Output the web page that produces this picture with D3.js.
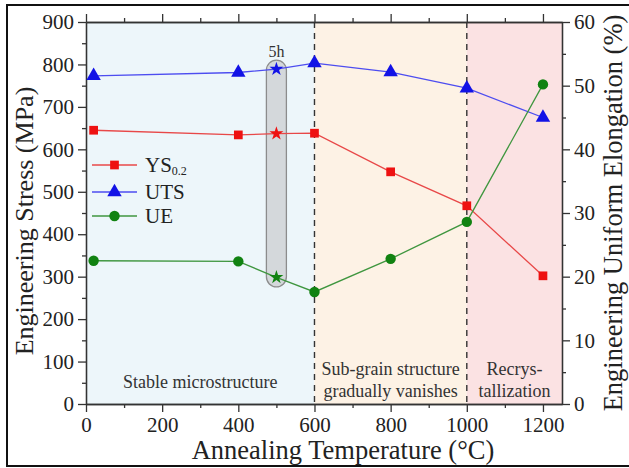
<!DOCTYPE html>
<html>
<head>
<meta charset="utf-8">
<script src="https://cdn.jsdelivr.net/npm/d3@7"></script>
<style>
  html, body { margin: 0; padding: 0; background: #fff; }
  svg { display: block; }
</style>
</head>
<body>
<svg id="chart" width="629" height="468"></svg>
<script>
// Annealing temperatures (°C); 500 °C is the 5 h hold
const temps = [20, 400, 500, 600, 800, 1000, 1200];
const longHoldTemp = 500;
// Yield strength YS0.2 (MPa)
const ysValues = [645, 634, 637, 638, 547, 467, 302];
// Ultimate tensile strength (MPa)
const utsValues = [773, 781, 789, 803, 782, 744, 675];
// Uniform elongation (%)
const ueValues = [22.5, 22.4, 19.9, 17.6, 22.8, 28.6, 50.2];

const xTicks = [0, 200, 400, 600, 800, 1000, 1200];
const yLeftTicks = [0, 100, 200, 300, 400, 500, 600, 700, 800, 900];
const yRightTicks = [0, 10, 20, 30, 40, 50, 60];

// Microstructure regimes along the temperature axis
const regionStarts = [0, 600, 1000];
const regionEnds = [600, 1000, 1250];
const regionLabels = [["Stable microstructure"], ["Sub-grain structure", "gradually vanishes"], ["Recrys-", "tallization"]];
const regionColors = ["#edf6fa", "#fdf2e5", "#fbe2e3"];

const FONT = "'Liberation Serif', Tinos, 'DejaVu Serif', serif";

const svg = d3.select("#chart").attr("font-family", FONT);
const m = { left: 86, top: 22, right: 67, bottom: 64 };
const W = 629, H = 468;
const iw = W - m.left - m.right, ih = H - m.top - m.bottom;

const x = d3.scaleLinear().domain([0, 1250]).range([m.left, m.left + iw]);
const yL = d3.scaleLinear().domain([0, 900]).range([m.top + ih, m.top]);
const yR = d3.scaleLinear().domain([0, 60]).range([m.top + ih, m.top]);

// outer frame
svg.append("rect").attr("x", 7).attr("y", 5).attr("width", 640).attr("height", 461)
  .attr("fill", "none").attr("stroke", "#111").attr("stroke-width", 2);

// regime backgrounds
svg.selectAll("rect.region").data(regionStarts).join("rect")
  .attr("class", "region")
  .attr("x", (d) => x(d)).attr("y", m.top)
  .attr("width", (d, i) => x(regionEnds[i]) - x(d)).attr("height", ih)
  .attr("fill", (d, i) => regionColors[i]);

// regime boundaries
svg.selectAll("line.bound").data([600, 1000]).join("line")
  .attr("x1", (d) => x(d)).attr("x2", (d) => x(d))
  .attr("y1", m.top).attr("y2", m.top + ih)
  .attr("stroke", "#333").attr("stroke-width", 1.4).attr("stroke-dasharray", "6,5");

function txt(sel) {
  return sel.append("text").attr("font-family", FONT).attr("fill", "#222");
}

// regime captions
regionLabels.forEach((lines, i) => {
  const cx = x((regionStarts[i] + regionEnds[i]) / 2);
  const base = lines.length === 1 ? 388 : 375;
  lines.forEach((t, j) => {
    txt(svg).attr("x", cx).attr("y", base + j * 21.5)
      .attr("text-anchor", "middle").attr("font-size", 18).attr("fill", "#333").text(t);
  });
});

// 5 h hold capsule
const capW = 20;
svg.append("rect")
  .attr("x", x(longHoldTemp) - capW / 2).attr("y", yL(810))
  .attr("width", capW).attr("height", yL(276) - yL(810))
  .attr("rx", capW / 2).attr("ry", capW / 2)
  .attr("fill", "#d4d8db").attr("stroke", "#8c8c8c").attr("stroke-width", 1.3);
txt(svg).attr("x", x(longHoldTemp)).attr("y", yL(810) - 3)
  .attr("text-anchor", "middle").attr("font-size", 16).attr("fill", "#333").text("5h");

// axes
function styleAxis(g) {
  g.attr("font-family", FONT);
  g.select(".domain").attr("stroke", "#333").attr("stroke-width", 1.3);
  g.selectAll(".tick line").attr("stroke", "#333").attr("stroke-width", 1.3);
  g.selectAll(".tick text").attr("font-size", 21).attr("fill", "#222").attr("font-family", FONT);
}
const fmt = d3.format("d");
const xMinor = d3.range(100, 1250, 200);
svg.append("g").attr("transform", `translate(0,${m.top + ih})`)
  .call(d3.axisBottom(x).tickValues(xTicks).tickFormat(fmt).tickSize(8).tickPadding(5).tickSizeOuter(0)).call(styleAxis);
svg.append("g").attr("transform", `translate(0,${m.top + ih})`)
  .call(d3.axisBottom(x).tickValues(xMinor).tickSize(4).tickFormat("").tickSizeOuter(0)).call(styleAxis);
svg.append("g").attr("transform", `translate(0,${m.top})`)
  .call(d3.axisTop(x).tickValues(xTicks).tickSize(8).tickFormat("").tickSizeOuter(0)).call(styleAxis);
svg.append("g").attr("transform", `translate(0,${m.top})`)
  .call(d3.axisTop(x).tickValues(xMinor).tickSize(4).tickFormat("").tickSizeOuter(0)).call(styleAxis);

const yLMinor = d3.range(50, 900, 100);
svg.append("g").attr("transform", `translate(${m.left},0)`)
  .call(d3.axisLeft(yL).tickValues(yLeftTicks).tickFormat(fmt).tickSize(8).tickPadding(4).tickSizeOuter(0)).call(styleAxis);
svg.append("g").attr("transform", `translate(${m.left},0)`)
  .call(d3.axisLeft(yL).tickValues(yLMinor).tickSize(4).tickFormat("").tickSizeOuter(0)).call(styleAxis);

const yRMinor = d3.range(5, 60, 10);
svg.append("g").attr("transform", `translate(${m.left + iw},0)`)
  .call(d3.axisRight(yR).tickValues(yRightTicks).tickFormat(fmt).tickSize(8).tickPadding(4).tickSizeOuter(0)).call(styleAxis);
svg.append("g").attr("transform", `translate(${m.left + iw},0)`)
  .call(d3.axisRight(yR).tickValues(yRMinor).tickSize(4).tickFormat("").tickSizeOuter(0)).call(styleAxis);

// axis titles
txt(svg).attr("x", 343).attr("y", 459).attr("text-anchor", "middle")
  .attr("font-size", 26.5).text("Annealing Temperature (°C)");
txt(svg).attr("transform", "translate(33,221) rotate(-90)")
  .attr("text-anchor", "middle").attr("font-size", 26).text("Engineering Stress (MPa)");
txt(svg).attr("transform", "translate(622,213) rotate(-90)")
  .attr("text-anchor", "middle").attr("font-size", 26.5).text("Engineering Uniform Elongation (%)");

// series
const series = [
  { name: "YS", values: ysValues, y: yL, line: "#e84848", fill: "#ee1111", shape: d3.symbolSquare, size: 76 },
  { name: "UTS", values: utsValues, y: yL, line: "#4d4df0", fill: "#1212e6", shape: d3.symbolTriangle, size: 90 },
  { name: "UE", values: ueValues, y: yR, line: "#3f963f", fill: "#118211", shape: d3.symbolCircle, size: 85 }
];

series.forEach((s) => {
  const pts = temps.map((t, i) => [t, s.values[i]]);
  svg.append("path").datum(pts)
    .attr("d", d3.line().x((d) => x(d[0])).y((d) => s.y(d[1])))
    .attr("fill", "none").attr("stroke", s.line).attr("stroke-width", 1.3);
  svg.append("g").selectAll("path").data(pts).join("path")
    .attr("transform", (d) => `translate(${x(d[0])},${s.y(d[1])})`)
    .attr("d", (d) => d[0] === longHoldTemp
      ? d3.symbol(d3.symbolStar, 60)()
      : d3.symbol(s.shape, s.size)())
    .attr("fill", s.fill);
});

// legend
const legendY = [165, 192, 216];
series.forEach((s, i) => {
  const g = svg.append("g").attr("transform", `translate(0,${legendY[i]})`);
  g.append("line").attr("x1", 92).attr("x2", 137).attr("stroke", s.line).attr("stroke-width", 1.3);
  g.append("path").attr("transform", "translate(114.5,0)").attr("d", d3.symbol(s.shape, s.size)()).attr("fill", s.fill);
  const t = txt(g).attr("x", 145).attr("y", 7).attr("font-size", 21);
  if (s.name === "YS") {
    t.append("tspan").text("YS");
    t.append("tspan").attr("font-size", 12).attr("dy", 3).text("0.2");
  } else {
    t.text(s.name);
  }
});
</script>
</body>
</html>
